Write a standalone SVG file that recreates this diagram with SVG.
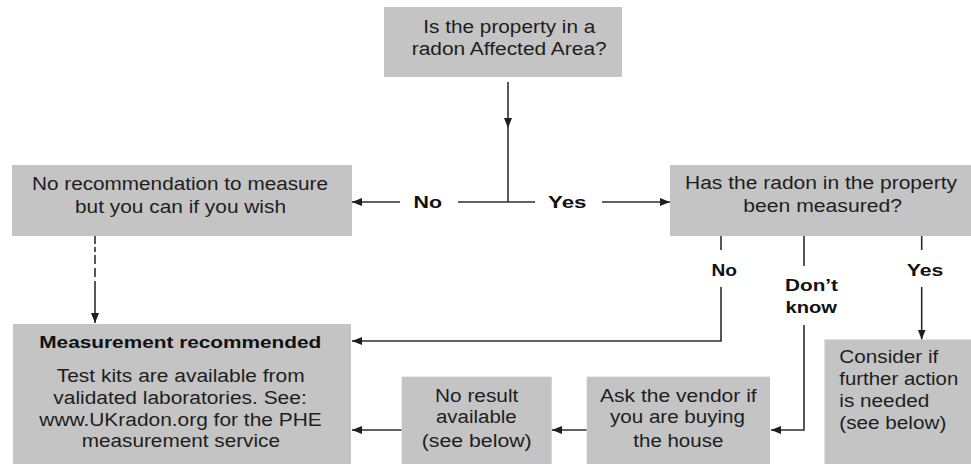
<svg xmlns="http://www.w3.org/2000/svg" width="971" height="464" viewBox="0 0 971 464">
  <style>
    .box { fill: #c4c4c4; }
    .t { font-family: "Liberation Sans", Arial, sans-serif; font-size: 18px; fill: #1e1e1e; }
    .b { font-family: "Liberation Sans", Arial, sans-serif; font-size: 17px; font-weight: bold; fill: #111; }
    .c { fill: none; stroke: #2e2e2e; stroke-width: 1.6; }
    .d { fill: none; stroke: #2e2e2e; stroke-width: 1.6; stroke-dasharray: 8 3 5 3 9 4 9 4 100; }
  </style>
  <defs>
    <marker id="ah" markerUnits="userSpaceOnUse" markerWidth="11" markerHeight="9" refX="10" refY="4" orient="auto">
      <path d="M0,0 L10,4 L0,8 Z" fill="#1e1e1e"/>
    </marker>
  </defs>
  <rect width="971" height="464" fill="#ffffff"/>

  <g id="connectors">
    <path class="c" d="M508,82 L508,128 L508,202" marker-mid="url(#ah)"/>
    <path class="c" d="M458,202 L535,202"/>
    <path class="c" d="M602,202 L670,202" marker-end="url(#ah)"/>
    <path class="c" d="M400,202 L352,202" marker-end="url(#ah)"/>
    <path class="c" d="M721,236 L721,250 M721,287 L721,341 L352,341" marker-end="url(#ah)"/>
    <path class="c" d="M804,236 L804,266 M804,325 L804,430 L771,430" marker-end="url(#ah)"/>
    <path class="c" d="M921.7,236 L921.7,250 M921.7,287 L921.7,339.5" marker-end="url(#ah)"/>
    <path class="c" d="M586.7,430 L552,430" marker-end="url(#ah)"/>
    <path class="c" d="M401.7,430 L352,430" marker-end="url(#ah)"/>
    <path class="d" d="M95,236 L95,323" marker-end="url(#ah)"/>
    <text class="b" x="413.5" y="207.5" textLength="28.5" lengthAdjust="spacingAndGlyphs">No</text>
    <text class="b" x="548" y="207.5" textLength="38.5" lengthAdjust="spacingAndGlyphs">Yes</text>
    <text class="b" x="711.5" y="276" textLength="25.5" lengthAdjust="spacingAndGlyphs">No</text>
    <text class="b" x="785" y="290.7" textLength="53" lengthAdjust="spacingAndGlyphs">Don’t</text>
    <text class="b" x="785.5" y="312.7" textLength="51.5" lengthAdjust="spacingAndGlyphs">know</text>
    <text class="b" x="906.7" y="276" textLength="36.6" lengthAdjust="spacingAndGlyphs">Yes</text>
  </g>

  <g id="node-affected-area">
    <rect class="box" x="384" y="7" width="238" height="70"/>
    <text class="t" x="423.3" y="32.5" textLength="172" lengthAdjust="spacingAndGlyphs">Is the property in a</text>
    <text class="t" x="411.7" y="54.5" textLength="195" lengthAdjust="spacingAndGlyphs">radon Affected Area?</text>
  </g>

  <g id="node-no-recommendation">
    <rect class="box" x="12" y="165" width="340" height="71"/>
    <text class="t" x="32" y="189.5" textLength="296" lengthAdjust="spacingAndGlyphs">No recommendation to measure</text>
    <text class="t" x="75" y="212.5" textLength="211" lengthAdjust="spacingAndGlyphs">but you can if you wish</text>
  </g>

  <g id="node-measured">
    <rect class="box" x="670" y="165" width="301" height="71"/>
    <text class="t" x="685" y="188.5" textLength="272" lengthAdjust="spacingAndGlyphs">Has the radon in the property</text>
    <text class="t" x="743.3" y="211.5" textLength="158.7" lengthAdjust="spacingAndGlyphs">been measured?</text>
  </g>

  <g id="node-measurement-recommended">
    <rect class="box" x="13" y="324" width="338" height="140"/>
    <text class="b" x="39.3" y="348.3" textLength="282" lengthAdjust="spacingAndGlyphs">Measurement recommended</text>
    <text class="t" x="56.7" y="381.7" textLength="248" lengthAdjust="spacingAndGlyphs">Test kits are available from</text>
    <text class="t" x="53.3" y="404" textLength="253.4" lengthAdjust="spacingAndGlyphs">validated laboratories. See:</text>
    <text class="t" x="39.3" y="426" textLength="282.4" lengthAdjust="spacingAndGlyphs">www.UKradon.org for the PHE</text>
    <text class="t" x="81.7" y="447.3" textLength="198.3" lengthAdjust="spacingAndGlyphs">measurement service</text>
  </g>

  <g id="node-no-result">
    <rect class="box" x="401.7" y="376.7" width="150" height="87.3"/>
    <text class="t" x="435" y="401.7" textLength="83.3" lengthAdjust="spacingAndGlyphs">No result</text>
    <text class="t" x="436" y="423.3" textLength="80.7" lengthAdjust="spacingAndGlyphs">available</text>
    <text class="t" x="421.7" y="446.7" textLength="110" lengthAdjust="spacingAndGlyphs">(see below)</text>
  </g>

  <g id="node-ask-vendor">
    <rect class="box" x="586.7" y="376.7" width="183.3" height="87.3"/>
    <text class="t" x="600" y="401.7" textLength="156.7" lengthAdjust="spacingAndGlyphs">Ask the vendor if</text>
    <text class="t" x="610" y="423.3" textLength="135" lengthAdjust="spacingAndGlyphs">you are buying</text>
    <text class="t" x="633.3" y="446.7" textLength="90" lengthAdjust="spacingAndGlyphs">the house</text>
  </g>

  <g id="node-consider">
    <rect class="box" x="824.5" y="339.5" width="146.5" height="124.5"/>
    <text class="t" x="839.3" y="363.3" textLength="99" lengthAdjust="spacingAndGlyphs">Consider if</text>
    <text class="t" x="839.3" y="385" textLength="119" lengthAdjust="spacingAndGlyphs">further action</text>
    <text class="t" x="839.3" y="406.5" textLength="90" lengthAdjust="spacingAndGlyphs">is needed</text>
    <text class="t" x="839.3" y="429" textLength="107" lengthAdjust="spacingAndGlyphs">(see below)</text>
  </g>
</svg>
